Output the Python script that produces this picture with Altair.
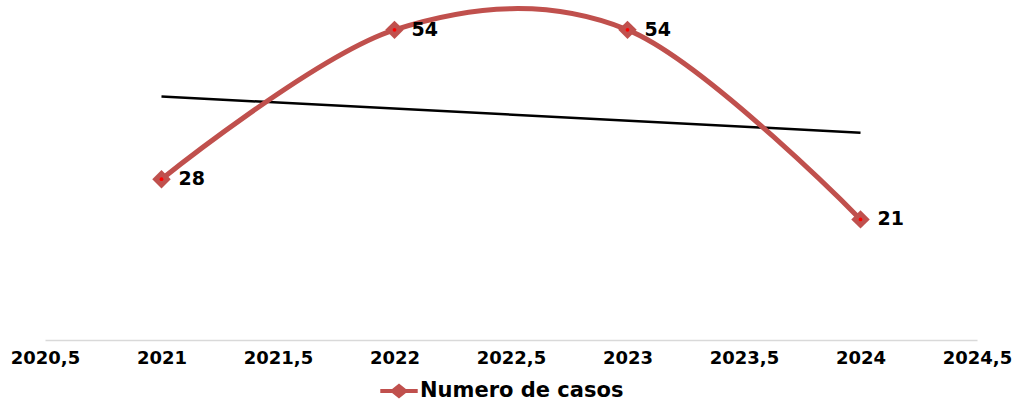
import altair as alt
import pandas as pd

years = [2021, 2022, 2023, 2024]
cases = [28, 54, 54, 21]
series_name = "Numero de casos"
x_ticks = [2020.5, 2021, 2021.5, 2022, 2022.5, 2023, 2023.5, 2024, 2024.5]

df = pd.DataFrame({"year": years, "cases": cases, "serie": [series_name] * len(years)})

RED = "#C0504D"
FONT = "DejaVu Sans"

x = alt.X(
    "year:Q",
    scale=alt.Scale(domain=[2020.5, 2024.5], nice=False, zero=False),
    axis=alt.Axis(
        values=x_ticks,
        title=None,
        grid=False,
        ticks=False,
        domainColor="#D9D9D9",
        domainWidth=1.5,
        labelFont=FONT,
        labelFontWeight="bold",
        labelFontSize=18,
        labelColor="#000000",
        labelPadding=9,
        labelFlush=False,
        labelBound=False,
        labelExpr="replace(toString(datum.value), '.', ',')",
        labelOverlap=False,
    ),
)
y = alt.Y("cases:Q", scale=alt.Scale(domain=[0, 59.2], nice=False), axis=None)

base = alt.Chart(df)

line = base.mark_line(color=RED, strokeWidth=5, interpolate="cardinal", tension=0).encode(x=x, y=y)

trend = (
    base.transform_regression("year", "cases")
    .mark_line(color="#000000", strokeWidth=2.5)
    .encode(x=x, y=y)
)

legend_path = "M-1,-0.11L1,-0.11L1,0.11L-1,0.11Z M-0.5,0L0,-0.4L0.5,0L0,0.4Z"

points = base.mark_point(shape="diamond", filled=True, size=340, opacity=1).encode(
    x=x,
    y=y,
    color=alt.Color(
        "serie:N",
        scale=alt.Scale(range=[RED]),
        legend=alt.Legend(
            title=None,
            orient="none",
            legendX=335,
            legendY=372,
            symbolType=legend_path,
            symbolSize=1400,
            symbolStrokeWidth=0,
            labelFont=FONT,
            labelFontWeight="bold",
            labelFontSize=21,
            labelColor="#000000",
            labelOffset=2,
            labelLimit=500,
        ),
    ),
)

dots = base.mark_point(shape="circle", filled=True, size=14, color="#FF0000", opacity=1).encode(x=x, y=y)

labels = base.mark_text(
    align="left", baseline="middle", dx=17, font=FONT, fontWeight="bold", fontSize=19, color="#000000"
).encode(x=x, y=y, text="cases:Q")

chart = (
    alt.layer(trend, line, points, dots, labels)
    .properties(
        width=932,
        height=340,
        padding={"left": 45, "top": 0, "right": 41, "bottom": 62},
        autosize="none",
        view=alt.ViewBackground(stroke="transparent", strokeWidth=0),
    )
    .configure_view(strokeWidth=0, stroke="transparent")
    .configure(background="#FFFFFF")
)

chart.save("out.html", embed_options={"renderer": "svg", "actions": False})
